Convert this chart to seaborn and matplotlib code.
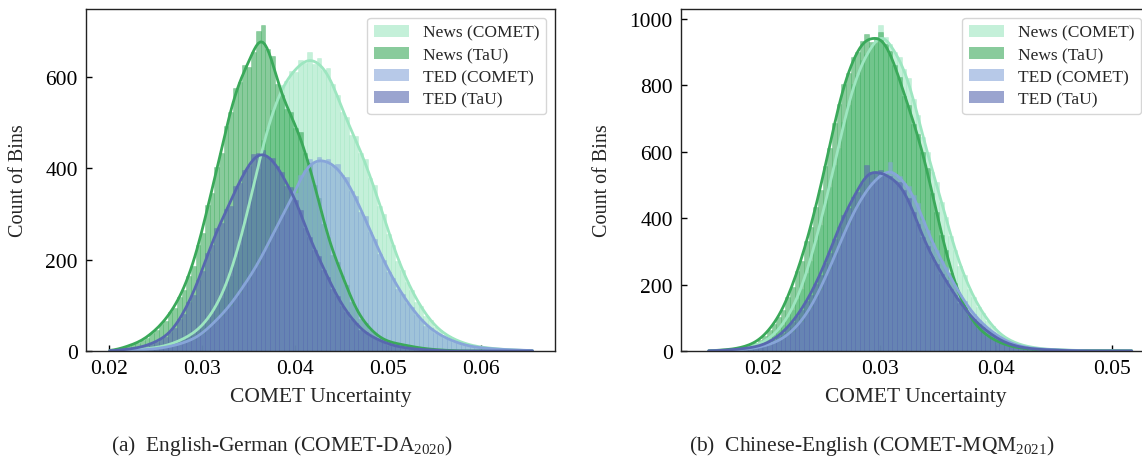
import matplotlib
matplotlib.use("Agg")
import matplotlib.pyplot as plt
import matplotlib.patches as mpatches
from matplotlib.colors import to_rgba
import numpy as np
import pandas as pd
import seaborn as sns

series_names = ["News (COMET)", "News (TaU)", "TED (COMET)", "TED (TaU)"]
series_colors = ["#9de6c0", "#3aa95a", "#87a5d9", "#5767af"]

# (a) English-German, bin counts
bin_start_a = 0.0198
bin_width_a = 0.0005
news_comet_a = [0, 0, 1, 1, 2, 2, 3, 4, 5, 6,
                7, 9, 12, 13, 18, 23, 26, 33, 37, 47,
                54, 68, 80, 100, 115, 143, 165, 205, 232, 280,
                312, 372, 398, 462, 485, 528, 548, 582, 590, 612,
                610, 636, 630, 655, 628, 640, 615, 618, 585, 560,
                522, 512, 472, 470, 432, 420, 378, 362, 318, 300,
                255, 232, 196, 178, 150, 134, 108, 98, 77, 68,
                52, 46, 36, 32, 25, 22, 17, 15, 11, 10,
                8, 7, 6, 5, 4, 3, 3, 2, 2, 1,
                1, 0]
news_tau_a = [0, 2, 4, 8, 10, 16, 17, 23, 29, 40,
              45, 58, 66, 85, 94, 118, 133, 165, 186, 232,
              258, 320, 345, 402, 432, 492, 522, 575, 588, 625,
              622, 655, 700, 712, 660, 645, 585, 560, 530, 522,
              488, 478, 432, 412, 362, 335, 278, 250, 210, 195,
              165, 145, 108, 92, 70, 62, 46, 40, 28, 25,
              19, 18, 15, 15, 11, 10, 8, 6, 5, 4,
              3, 2, 2, 1, 1, 0, 0, 0, 0, 0,
              0, 0, 0, 0, 0, 0, 0, 0, 0, 0,
              0, 0]
ted_comet_a = [0, 0, 0, 0, 0, 1, 2, 3, 3, 4,
               5, 6, 8, 10, 12, 15, 18, 22, 25, 31,
               37, 49, 56, 70, 76, 90, 98, 118, 127, 148,
               157, 178, 188, 216, 228, 256, 270, 298, 308, 332,
               345, 385, 395, 420, 412, 425, 415, 420, 405, 408,
               385, 380, 350, 340, 305, 295, 260, 246, 212, 200,
               172, 160, 136, 125, 104, 96, 78, 70, 55, 50,
               40, 36, 29, 26, 20, 18, 14, 11, 9, 8,
               7, 6, 5, 4, 4, 3, 3, 2, 2, 2,
               1, 1]
ted_tau_a = [0, 1, 2, 3, 4, 5, 7, 9, 12, 16,
             20, 26, 30, 41, 50, 70, 82, 108, 122, 155,
             175, 215, 232, 268, 280, 310, 318, 360, 368, 395,
             405, 430, 432, 440, 425, 422, 405, 392, 360, 358,
             330, 308, 270, 250, 220, 208, 178, 162, 135, 120,
             98, 86, 70, 62, 46, 41, 32, 29, 23, 20,
             14, 12, 10, 8, 6, 5, 4, 3, 3, 2,
             2, 1, 0, 0, 0, 0, 0, 0, 0, 0,
             0, 0, 0, 0, 0, 0, 0, 0, 0, 0,
             0, 0]

# (b) Chinese-English
bin_start_b = 0.0151
bin_width_b = 0.0004
news_comet_b = [0, 0, 1, 1, 2, 3, 4, 6, 9, 12,
                16, 21, 28, 37, 47, 63, 79, 102, 124, 157,
                188, 235, 272, 335, 380, 445, 495, 560, 612, 690,
                740, 805, 830, 875, 895, 920, 928, 982, 945, 925,
                900, 885, 850, 822, 758, 712, 645, 600, 540, 510,
                450, 405, 345, 305, 255, 228, 186, 162, 132, 114,
                90, 76, 57, 47, 36, 31, 23, 19, 15, 12,
                10, 8, 6, 5, 4, 4, 3, 3, 2, 2,
                1, 1, 1, 1, 1, 1, 1, 1, 1, 0,
                0, 0]
news_tau_b = [1, 1, 2, 3, 4, 5, 8, 10, 14, 19,
              25, 34, 46, 64, 80, 102, 124, 162, 194, 240,
              272, 330, 372, 435, 485, 556, 610, 688, 745, 805,
              838, 885, 900, 935, 955, 930, 945, 960, 925, 905,
              862, 825, 768, 742, 685, 655, 598, 550, 475, 420,
              350, 305, 236, 205, 160, 133, 102, 87, 66, 56,
              43, 37, 28, 24, 17, 14, 11, 9, 7, 6,
              5, 4, 4, 3, 3, 2, 2, 2, 2, 1,
              1, 1, 1, 1, 1, 1, 1, 1, 1, 1,
              1, 1]
ted_comet_b = [0, 0, 0, 1, 1, 2, 3, 4, 5, 7,
               9, 12, 15, 19, 24, 30, 37, 49, 58, 77,
               88, 112, 130, 160, 185, 222, 246, 285, 312, 355,
               380, 420, 435, 470, 480, 510, 515, 535, 530, 568,
               532, 528, 505, 498, 470, 445, 395, 365, 325, 305,
               270, 252, 218, 200, 168, 152, 125, 112, 92, 82,
               66, 58, 46, 39, 29, 24, 18, 14, 11, 9,
               7, 6, 5, 5, 4, 3, 3, 2, 2, 1,
               1, 0, 0, 0, 0, 0, 0, 0, 0, 0,
               0, 0]
ted_tau_b = [0, 1, 1, 2, 3, 4, 5, 6, 8, 10,
             12, 15, 20, 26, 34, 45, 55, 71, 86, 106,
             124, 150, 170, 203, 228, 265, 295, 338, 372, 410,
             432, 465, 478, 505, 560, 538, 535, 545, 528, 528,
             512, 508, 485, 462, 418, 382, 342, 315, 282, 262,
             232, 215, 186, 170, 145, 130, 108, 96, 80, 71,
             56, 49, 37, 31, 23, 19, 14, 12, 9, 7,
             6, 5, 4, 3, 3, 2, 2, 1, 1, 0,
             0, 0, 0, 0, 0, 0, 0, 0, 0, 0,
             0, 0]

xticks_a = [0.02, 0.03, 0.04, 0.05, 0.06]
yticks_a = [0, 200, 400, 600]
xticks_b = [0.02, 0.03, 0.04, 0.05]
yticks_b = [0, 200, 400, 600, 800, 1000]
captions = ["(a)  English-German (COMET-DA$_{2020}$)",
            "(b)  Chinese-English (COMET-MQM$_{2021}$)"]

sns.set_style("white")
plt.rcParams["font.family"] = ["Liberation Serif", "DejaVu Serif"]
plt.rcParams["mathtext.fontset"] = "custom"
plt.rcParams["mathtext.rm"] = "Liberation Serif"
plt.rcParams["mathtext.it"] = "Liberation Serif:italic"


def draw_panel(ax, start, width, all_counts, xticks, yticks, xlim, ylim, ylabel_x):
    for name, color, counts in zip(series_names, series_colors, all_counts):
        counts = np.asarray(counts, dtype=float)
        edges = start + width * np.arange(len(counts) + 1)
        df = pd.DataFrame({"x": (edges[:-1] + edges[1:]) / 2, "w": counts})
        sns.histplot(data=df, x="x", weights="w", bins=edges.tolist(), kde=True,
                     color=color, alpha=0.6, ax=ax, edgecolor=to_rgba(color, 0.35),
                     linewidth=0.6,
                     kde_kws={"bw_adjust": 0.3}, line_kws={"linewidth": 2})
    ax.set_xlim(*xlim)
    ax.set_ylim(*ylim)
    ax.set_xticks(xticks)
    ax.set_xticklabels([f"{t:.2f}" for t in xticks])
    ax.set_yticks(yticks)
    ax.tick_params(direction="in", length=4, width=1, bottom=True, left=True,
                   labelsize=15.5, pad=6, colors="black")
    for s in ax.spines.values():
        s.set_color("#222222")
        s.set_linewidth(1.0)
    ax.set_xlabel("COMET Uncertainty", fontsize=15.5, labelpad=6)
    ax.set_ylabel("Count of Bins", fontsize=14.5)
    ax.yaxis.set_label_coords(ylabel_x, 0.5)
    handles = [mpatches.Patch(facecolor=to_rgba(c, 0.6), edgecolor="none", label=n)
               for n, c in zip(series_names, series_colors)]
    ax.legend(handles=handles, loc="upper right", fontsize=12.5,
              labelspacing=0.35, handlelength=2.0, borderaxespad=0.5)


fig = plt.figure(figsize=(11.42, 4.64), dpi=100)
ax_a = fig.add_axes([86 / 1142, 112 / 464, 469 / 1142, 342 / 464])
ax_b = fig.add_axes([681 / 1142, 112 / 464, 469 / 1142, 342 / 464])

draw_panel(ax_a, bin_start_a, bin_width_a,
           [news_comet_a, news_tau_a, ted_comet_a, ted_tau_a],
           xticks_a, yticks_a, (0.01749, 0.06797), (0, 748), -0.124)
draw_panel(ax_b, bin_start_b, bin_width_b,
           [news_comet_b, news_tau_b, ted_comet_b, ted_tau_b],
           xticks_b, yticks_b, (0.01291, 0.05327), (0, 1030), -0.147)

fig.text(282 / 1142, 1 - 446 / 464, captions[0], ha="center", va="center", fontsize=15.5)
fig.text(872 / 1142, 1 - 446 / 464, captions[1], ha="center", va="center", fontsize=15.5)

fig.savefig("out.png", dpi=100)
